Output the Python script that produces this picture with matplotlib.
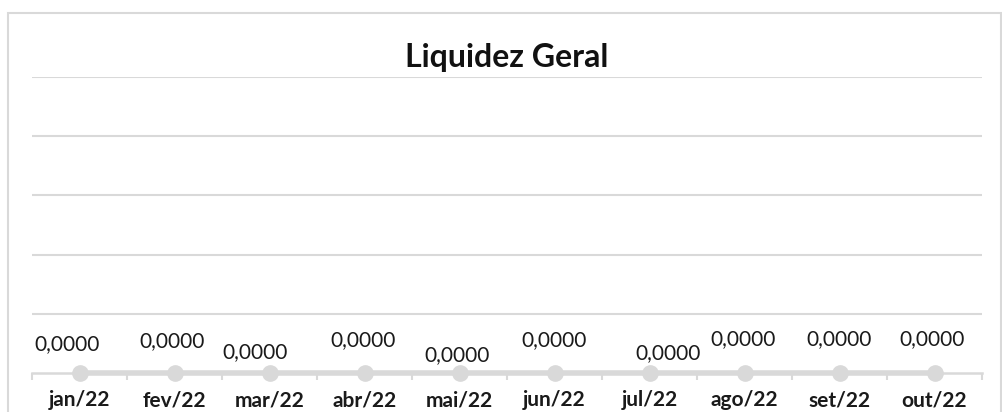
import matplotlib.pyplot as plt
import numpy as np
from matplotlib.patches import Rectangle

# Data
months = ["jan/22", "fev/22", "mar/22", "abr/22", "mai/22",
          "jun/22", "jul/22", "ago/22", "set/22", "out/22"]
liquidez = [0, 0, 0, 0, 0, 0, 0, 0, 0, 0]

# label offsets in pixels (Excel shuffles them to avoid overlap)
label_dx = [-12, -2, -14, -1, -2, 0, 19, -1, 0, -2]
label_dy = [29, 32, 21, 33, 18, 33, 20, 34, 34, 34]

plt.rcParams['font.family'] = ['Lato', 'DejaVu Sans']
grey = '#d9d9d9'

fig = plt.figure(figsize=(10.03, 4.12), dpi=100)
fig.patches.append(Rectangle((8 / 1003, -0.1), 993 / 1003, (412 - 13) / 412 + 0.1,
                             transform=fig.transFigure, fill=False,
                             edgecolor=grey, linewidth=1.5))

ax = fig.add_axes([32 / 1003, 39 / 412, 950 / 1003, 296 / 412])
x = np.arange(len(months))
ax.plot(x, liquidez, color=grey, linewidth=4, marker='o', markersize=11,
        zorder=3, clip_on=False)

ax.set_xlim(-0.5, len(months) - 0.5)
ax.set_ylim(0, 5)
ax.set_yticks(range(1, 6))
ax.yaxis.grid(True, color=grey, linewidth=1.5)
ax.tick_params(axis='y', length=0, labelleft=False)

for s in ['top', 'right', 'left']:
    ax.spines[s].set_visible(False)
ax.spines['bottom'].set_color(grey)
ax.spines['bottom'].set_linewidth(1.8)

ax.set_xticks(x)
ax.set_xticklabels(months, fontsize=15, fontweight='bold', color='#1a1a1a')
ax.tick_params(axis='x', length=0, pad=12.5)
ax.set_xticks(np.arange(-0.5, len(months)), minor=True)
ax.tick_params(axis='x', which='minor', length=5, width=1.5, color=grey)

for i, v in enumerate(liquidez):
    ax.annotate(f"{v:.4f}".replace('.', ','), (i, v),
                xytext=(label_dx[i] * 0.72, label_dy[i] * 0.72),
                textcoords='offset points', ha='center', va='center',
                fontsize=15, color='#1a1a1a', annotation_clip=False)

fig.text(507 / 1003, 1 - 57 / 412, "Liquidez Geral", ha='center', va='center',
         fontsize=23, fontweight='bold', color='#111111')

fig.savefig("out.png", dpi=100)
